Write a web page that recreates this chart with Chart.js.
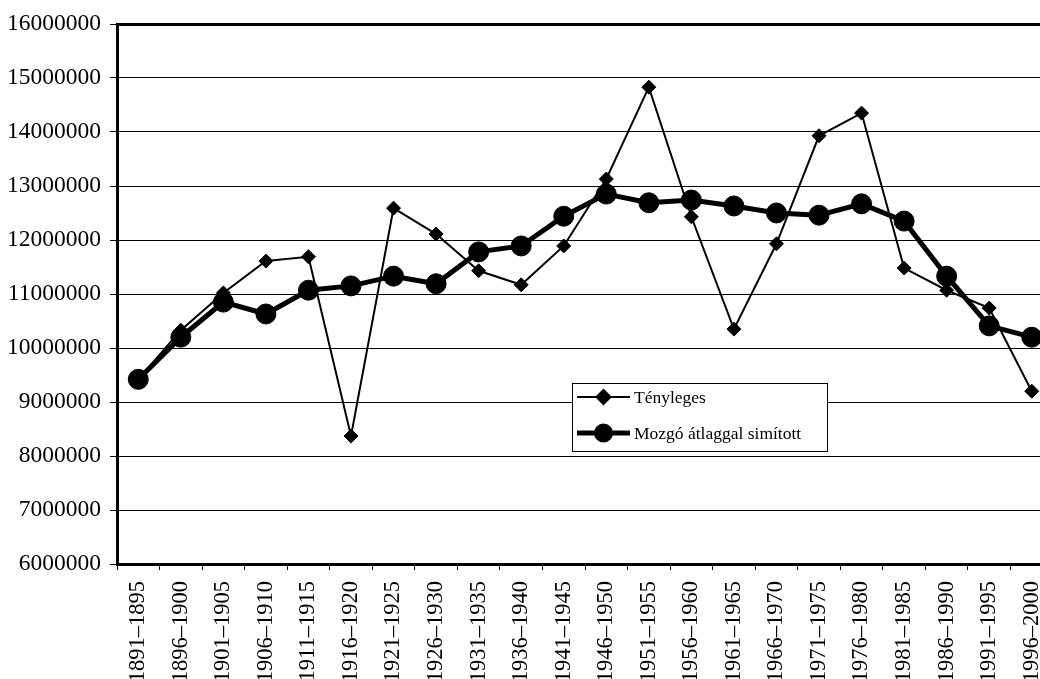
<!DOCTYPE html>
<html lang="hu">
<head>
<meta charset="utf-8">
<title>Tényleges és mozgó átlaggal simított értékek</title>
<script src="https://cdn.jsdelivr.net/npm/chart.js@4"></script>
<style>
    html, body { margin: 0; padding: 0; background: #fff; overflow: hidden; }
    #wrap { position: relative; width: 1040px; height: 679px; overflow: hidden; }
    #chart { position: absolute; left: 0; top: 0; }
</style>
</head>
<body>
<div id="wrap">
    <canvas id="chart" width="1070" height="720"></canvas>
</div>
<script>
// -----------------------------
// Adatok
// -----------------------------
const periods = [
    "1891–1895", "1896–1900", "1901–1905", "1906–1910", "1911–1915", "1916–1920",
    "1921–1925", "1926–1930", "1931–1935", "1936–1940", "1941–1945", "1946–1950",
    "1951–1955", "1956–1960", "1961–1965", "1966–1970", "1971–1975", "1976–1980",
    "1981–1985", "1986–1990", "1991–1995", "1996–2000"
];

const tenyleges = [
    9420000, 10330000, 11020000, 11610000, 11690000, 8370000,
    12590000, 12110000, 11430000, 11170000, 11890000, 13130000,
    14830000, 12430000, 10350000, 11930000, 13930000, 14350000,
    11480000, 11070000, 10740000, 9200000
];

const mozgoAtlag = [
    9420000, 10200000, 10850000, 10630000, 11070000, 11150000,
    11330000, 11190000, 11780000, 11890000, 12440000, 12850000,
    12690000, 12740000, 12630000, 12500000, 12460000, 12670000,
    12350000, 11330000, 10410000, 10200000
];

const yMin = 6000000;
const yMax = 16000000;
const yStep = 1000000;

const FONT = "'Liberation Serif', 'Times New Roman', serif";

// -----------------------------
// Jelmagyarázat keretben, a rajzterületen belül
// -----------------------------
const boxLegend = {
    id: "boxLegend",
    afterDraw(chart) {
        const ctx = chart.ctx;
        const area = chart.chartArea;
        const left = area.left + 455;
        const top = area.top + 359;
        const w = 255, h = 68;

        ctx.save();
        ctx.fillStyle = "#fff";
        ctx.fillRect(left, top, w, h);
        ctx.strokeStyle = "#000";
        ctx.lineWidth = 1;
        ctx.strokeRect(left + 0.5, top + 0.5, w, h);

        ctx.font = "17.5px " + FONT;
        ctx.textBaseline = "middle";
        ctx.fillStyle = "#000";

        chart.data.datasets.forEach((ds, i) => {
            const y = top + 14 + i * 36;
            const x0 = left + 5, x1 = left + 58;
            ctx.strokeStyle = "#000";
            ctx.lineWidth = ds.borderWidth;
            ctx.beginPath();
            ctx.moveTo(x0, y);
            ctx.lineTo(x1, y);
            ctx.stroke();

            ctx.fillStyle = "#000";
            Chart.helpers.drawPoint(ctx, {
                pointStyle: ds.pointStyle,
                radius: ds.legendRadius,
                rotation: 0,
                borderWidth: 1
            }, (x0 + x1) / 2, y);

            ctx.fillStyle = "#000";
            ctx.fillText(ds.label, x1 + 4, y + 1);
        });
        ctx.restore();
    }
};

// -----------------------------
// Diagram
// -----------------------------
new Chart(document.getElementById("chart"), {
    type: "line",
    data: {
        labels: periods,
        datasets: [
            {
                label: "Tényleges",
                data: tenyleges,
                borderColor: "#000",
                backgroundColor: "#000",
                borderWidth: 2,
                tension: 0,
                pointStyle: "rectRot",
                pointRadius: 7,
                pointBorderWidth: 1,
                legendRadius: 7
            },
            {
                label: "Mozgó átlaggal simított",
                data: mozgoAtlag,
                borderColor: "#000",
                backgroundColor: "#000",
                borderWidth: 5,
                tension: 0,
                pointStyle: "circle",
                pointRadius: 10,
                pointBorderWidth: 1,
                legendRadius: 7
            }
        ]
    },
    options: {
        responsive: false,
        animation: false,
        devicePixelRatio: 1,
        layout: {
            padding: { left: 0, top: 24, right: 4, bottom: 0 }
        },
        plugins: {
            legend: { display: false },
            tooltip: { enabled: false }
        },
        scales: {
            x: {
                offset: true,
                grid: {
                    offset: true,
                    drawOnChartArea: false,
                    color: "#000",
                    tickLength: 6,
                    lineWidth: 1
                },
                border: { color: "#000", width: 3 },
                ticks: {
                    color: "#000",
                    font: { family: FONT, size: 22.5 },
                    minRotation: 90,
                    maxRotation: 90,
                    autoSkip: false,
                    padding: 11
                },
                afterFit(scale) { scale.height = 156; }
            },
            y: {
                min: yMin,
                max: yMax,
                grid: {
                    color: "#000",
                    lineWidth: (c) => (c.tick && c.tick.value === yMax ? 3 : 1),
                    tickWidth: 1,
                    tickColor: "#000",
                    tickLength: 7
                },
                border: { color: "#000", width: 3 },
                ticks: {
                    stepSize: yStep,
                    color: "#000",
                    padding: 9,
                    font: { family: FONT, size: 23.5 },
                    callback: (v) => String(v)
                },
                afterFit(scale) { scale.width = 117; }
            }
        }
    },
    plugins: [boxLegend]
});
</script>
</body>
</html>
